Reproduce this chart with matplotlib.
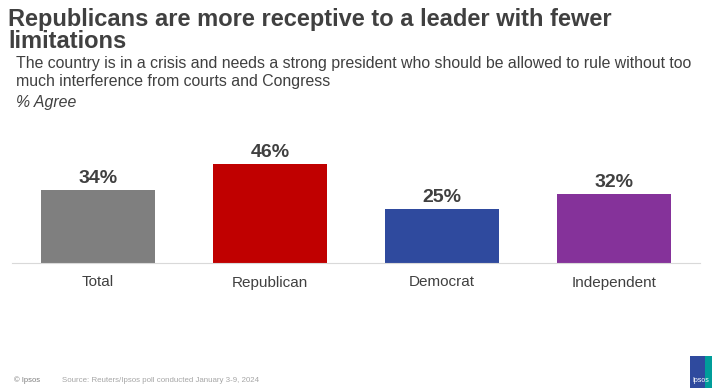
import matplotlib.pyplot as plt
from matplotlib.patches import Rectangle

plt.rcParams['font.family'] = ['Liberation Sans', 'DejaVu Sans']

categories = ['Total', 'Republican', 'Democrat', 'Independent']
agree = [34, 46, 25, 32]
bar_colors = ['#7f7f7f', '#c00000', '#2f4a9e', '#85329a']

fig = plt.figure(figsize=(7.16, 3.9), dpi=100)
W, H = 716, 390

# axes: baseline at y=263px, x from 12 to 700 px
ax = fig.add_axes([12 / W, 1 - 263 / H, 688 / W, 125 / H])
x = range(len(categories))
bars = ax.bar(x, agree, width=0.664, color=bar_colors)
ax.set_xlim(-0.5, 3.5)
ax.set_ylim(0, 125 / 2.15)
for b, v in zip(bars, agree):
    ax.text(b.get_x() + b.get_width() / 2, v + 1.5, f'{v}%', ha='center', va='bottom',
            fontsize=14, fontweight='bold', color='#404040')
ax.set_xticks(list(x))
ax.set_xticklabels(categories, fontsize=11, color='#404040')
ax.tick_params(axis='x', length=0, pad=9)
ax.set_yticks([])
for s in ['top', 'right', 'left']:
    ax.spines[s].set_visible(False)
ax.spines['bottom'].set_color('#d9d9d9')

# titles
fig.text(8 / W, 1 - 8 / H, 'Republicans are more receptive to a leader with fewer\nlimitations',
         ha='left', va='top', fontsize=17, fontweight='bold', color='#404040', linespacing=0.95)
fig.text(16 / W, 1 - 56 / H,
         'The country is in a crisis and needs a strong president who should be allowed to rule without too\n'
         'much interference from courts and Congress',
         ha='left', va='top', fontsize=11.4, color='#404040', linespacing=1.25)
fig.text(16 / W, 1 - 95 / H, '% Agree', ha='left', va='top', fontsize=11.4, style='italic', color='#404040')

# footer
fig.text(14 / W, 1 - 380 / H, '© Ipsos', ha='left', va='center', fontsize=5.5, color='#7f7f7f')
fig.text(62 / W, 1 - 380 / H, 'Source: Reuters/Ipsos poll conducted January 3-9, 2024',
         ha='left', va='center', fontsize=5.7, color='#a6a6a6')

# logo
fig.patches.append(Rectangle((690 / W, 1 - 388 / H), 22 / W, 32 / H, transform=fig.transFigure,
                             facecolor='#2f4a9e', edgecolor='none'))
fig.patches.append(Rectangle((705 / W, 1 - 388 / H), 7 / W, 32 / H, transform=fig.transFigure,
                             facecolor='#009d9a', edgecolor='none'))
fig.text(701 / W, 1 - 381 / H, 'Ipsos', ha='center', va='center', fontsize=5, color='white')

fig.savefig('out.png', dpi=100)
